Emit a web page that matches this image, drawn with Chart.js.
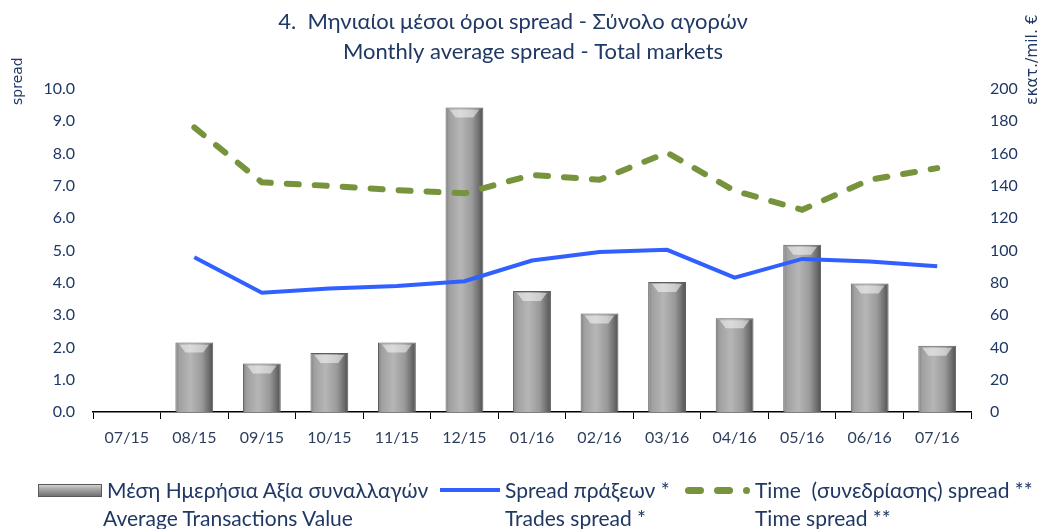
<!DOCTYPE html>
<html>
<head>
<meta charset="utf-8">
<script src="https://cdn.jsdelivr.net/npm/chart.js@4.4.1/dist/chart.umd.min.js"></script>
<style>
  html, body { margin: 0; padding: 0; background: #fff; }
  #wrap { position: relative; width: 1045px; height: 529px; }
  #myChart { position: absolute; left: 0; top: 0; }
  .lg { position: absolute; font-family: Lato, "Open Sans", sans-serif; font-size: 21px; color: #1F3864; white-space: nowrap; line-height: 1; }
  .sw { position: absolute; }
</style>
</head>
<body>
<div id="wrap">
  <canvas id="myChart" width="1045" height="529"></canvas>

  <div class="sw" style="left:38px;top:484px;width:62px;height:11px;border:1px solid #5a5a5a;background:linear-gradient(180deg,#d0d0d0 0%,#a4a4a4 40%,#727272 100%);"></div>
  <div class="lg" style="left:107px;top:479px;">Μέση Ημερήσια Αξία συναλλαγών</div>
  <div class="lg" style="left:103px;top:507px;">Average Transactions Value</div>

  <div class="sw" style="left:440px;top:488px;width:60px;height:4px;background:#3060FF;"></div>
  <div class="lg" style="left:505px;top:479px;">Spread πράξεων *</div>
  <div class="lg" style="left:505px;top:507px;">Trades spread *</div>

  <div class="sw" style="left:685px;top:487px;width:19px;height:7px;border-radius:4px;background:#77933C;"></div>
  <div class="sw" style="left:714px;top:487px;width:19px;height:7px;border-radius:4px;background:#77933C;"></div>
  <div class="sw" style="left:743px;top:487px;width:7px;height:7px;border-radius:4px;background:#77933C;"></div>
  <div class="lg" style="left:755px;top:479px;">Time&nbsp; (συνεδρίασης) spread **</div>
  <div class="lg" style="left:755px;top:507px;">Time spread **</div>
</div>

<script>
const labels = ['07/15','08/15','09/15','10/15','11/15','12/15','01/16','02/16','03/16','04/16','05/16','06/16','07/16'];
// Μέση Ημερήσια Αξία συναλλαγών (εκατ. €) - right axis
const avgValue = [null, 43, 30, 36.5, 43, 188.5, 75, 61, 80.5, 58, 103.5, 79.5, 41];
// Spread πράξεων - left axis
const tradesSpread = [null, 4.79, 3.69, 3.82, 3.90, 4.05, 4.69, 4.95, 5.02, 4.16, 4.74, 4.66, 4.51];
// Time spread - left axis
const timeSpread = [null, 8.81, 7.11, 7.00, 6.87, 6.77, 7.34, 7.19, 8.03, 6.85, 6.26, 7.19, 7.55];

const titleLines = ['4.  Μηνιαίοι μέσοι όροι spread - Σύνολο αγορών', 'Monthly average spread - Total markets'];
const leftTitle = 'spread';
const rightTitle = 'εκατ./mil. €';

const navy = '#1F3864';
const fontFam = 'Lato, "Open Sans", sans-serif';
const barPct = 0.56;

function barFill(c) {
  const chart = c.chart;
  const xs = chart.scales.x;
  if (!xs || !chart.chartArea || c.dataIndex === undefined) return '#9a9a9a';
  const cx = xs.getPixelForValue(c.dataIndex);
  const w = xs.width / labels.length * barPct;
  const g = chart.ctx.createLinearGradient(cx - w / 2, 0, cx + w / 2, 0);
  g.addColorStop(0, '#808080');
  g.addColorStop(0.1, '#a0a0a0');
  g.addColorStop(0.4, '#b6b6b6');
  g.addColorStop(0.7, '#9a9a9a');
  g.addColorStop(0.9, '#6a6a6a');
  g.addColorStop(1, '#4e4e4e');
  return g;
}

// bevel highlight on top of each bar + titles
const extras = {
  id: 'extras',
  afterDatasetDraw(chart, args) {
    if (args.meta.type !== 'bar') return;
    const ctx = chart.ctx;
    ctx.save();
    args.meta.data.forEach(el => {
      if (el.skip || isNaN(el.y)) return;
      const l = el.x - el.width / 2, r = el.x + el.width / 2, t = el.y;
      ctx.fillStyle = 'rgba(255,255,255,0.5)';
      ctx.beginPath();
      ctx.moveTo(l + 4, t + 2);
      ctx.lineTo(r - 4, t + 2);
      ctx.lineTo(r - 10, t + 10);
      ctx.lineTo(l + 10, t + 10);
      ctx.closePath();
      ctx.fill();
    });
    ctx.restore();
  },
  afterDraw(chart) {
    const ctx = chart.ctx;
    ctx.save();
    ctx.fillStyle = navy;
    ctx.textBaseline = 'middle';
    ctx.textAlign = 'center';
    ctx.font = '22px ' + fontFam;
    ctx.fillText(titleLines[0], 513, 22);
    ctx.fillText(titleLines[1], 533, 52);

    ctx.textAlign = 'left';
    ctx.font = '14px "DejaVu Sans", sans-serif';
    ctx.save();
    ctx.translate(18, 105);
    ctx.rotate(-Math.PI / 2);
    ctx.fillText(leftTitle, 0, 0);
    ctx.restore();

    ctx.font = '15.5px "DejaVu Sans", sans-serif';
    ctx.save();
    ctx.translate(1033, 105);
    ctx.rotate(-Math.PI / 2);
    ctx.fillText(rightTitle, 0, 0);
    ctx.restore();
    ctx.restore();
  }
};

new Chart('myChart', {
  type: 'bar',
  data: {
    labels: labels,
    datasets: [
      {
        type: 'line',
        label: 'Spread πράξεων *',
        data: tradesSpread,
        yAxisID: 'y',
        borderColor: '#3060FF',
        borderWidth: 4,
        pointRadius: 0,
        fill: false,
        order: 1
      },
      {
        type: 'line',
        label: 'Time (συνεδρίασης) spread **',
        data: timeSpread,
        yAxisID: 'y',
        borderColor: '#77933C',
        borderWidth: 6,
        borderDash: [12, 16],
        borderCapStyle: 'round',
        pointRadius: 0,
        fill: false,
        order: 1
      },
      {
        type: 'bar',
        label: 'Μέση Ημερήσια Αξία συναλλαγών',
        data: avgValue,
        yAxisID: 'y1',
        backgroundColor: barFill,
        borderColor: '#5e5e5e',
        borderWidth: 1,
        categoryPercentage: 1,
        barPercentage: barPct,
        order: 2
      }
    ]
  },
  options: {
    responsive: false,
    animation: false,
    layout: { padding: { top: 89, bottom: 0, left: 0, right: 0 } },
    plugins: {
      legend: { display: false },
      title: { display: false },
      tooltip: { enabled: false }
    },
    scales: {
      x: {
        offset: true,
        grid: { display: true, drawOnChartArea: false, drawTicks: true, tickLength: 7, color: '#000', offset: true },
        border: { display: true, color: '#000', width: 1.5 },
        ticks: { color: '#2d3e5c', font: { family: fontFam, size: 16 }, padding: 9, maxRotation: 0 },
        afterFit: s => { s.height = 117; }
      },
      y: {
        position: 'left',
        min: 0, max: 10,
        grid: { display: false },
        border: { display: false },
        ticks: { stepSize: 1, color: navy, font: { family: fontFam, size: 16 }, padding: 10, callback: v => v.toFixed(1) },
        afterFit: s => { s.width = 93; }
      },
      y1: {
        position: 'right',
        min: 0, max: 200,
        grid: { display: false },
        border: { display: false },
        ticks: { stepSize: 20, color: navy, font: { family: fontFam, size: 16 }, padding: 11 },
        afterFit: s => { s.width = 74; }
      }
    }
  },
  plugins: [extras]
});
</script>
</body>
</html>
